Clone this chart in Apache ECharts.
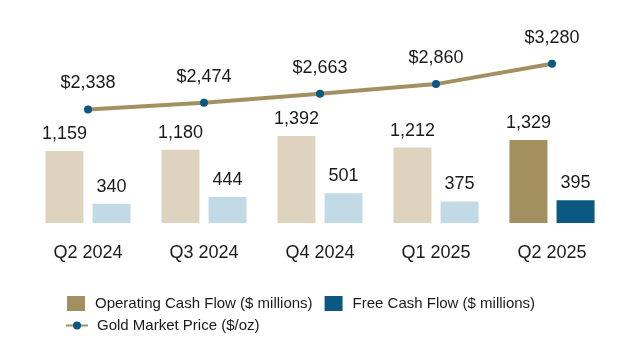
<!DOCTYPE html>
<html>
<head>
<meta charset="utf-8">
<script src="https://cdn.jsdelivr.net/npm/echarts@6/dist/echarts.min.js"></script>
<style>html,body{margin:0;padding:0;background:#fff}#c{width:640px;height:350px}</style>
</head>
<body>
<div id="c"></div>
<script>
const categories = ['Q2 2024', 'Q3 2024', 'Q4 2024', 'Q1 2025', 'Q2 2025'];
const operatingCashFlow = [1159, 1180, 1392, 1212, 1329];
const freeCashFlow = [340, 444, 501, 375, 395];
const goldPrice = [2338, 2474, 2663, 2860, 3280];

const FONT = '"Liberation Sans", Arial, sans-serif';
const TXT = '#1a1a1a';
const ocfDark = '#A39061', ocfLight = '#DDD3BF';
const fcfDark = '#0B5882', fcfLight = '#C2D9E6';
const lastIdx = categories.length - 1;
const fmt = v => Number(v).toLocaleString('en-US');

const chart = echarts.init(document.getElementById('c'), null, {renderer: 'canvas'});
chart.setOption({
  animation: false,
  backgroundColor: '#fff',
  textStyle: {fontFamily: FONT},
  grid: {left: 30, right: 30, top: 20, bottom: 127},
  xAxis: {
    type: 'category',
    data: categories,
    axisLine: {show: false},
    axisTick: {show: false},
    axisLabel: {fontSize: 18, color: TXT, fontFamily: FONT, margin: 21}
  },
  yAxis: [
    {type: 'value', min: 40, max: 3195, show: false, splitLine: {show: false}},
    {type: 'value', min: 0, max: 4180, show: false, splitLine: {show: false}}
  ],
  legend: [
    {
      data: ['Operating Cash Flow ($ millions)', 'Free Cash Flow ($ millions)'],
      left: 67, top: 296, padding: 0, icon: 'rect',
      itemWidth: 18, itemHeight: 15, itemGap: 12,
      textStyle: {fontSize: 15, color: TXT, fontFamily: FONT, padding: [0, 0, 0, 5]}
    },
    {
      data: ['Gold Market Price ($/oz)'],
      left: 65, top: 318, padding: 0,
      itemWidth: 22, itemHeight: 10,
      textStyle: {fontSize: 15, color: TXT, fontFamily: FONT, padding: [0, 0, 0, 4]}
    }
  ],
  series: [
    {
      name: 'Operating Cash Flow ($ millions)',
      type: 'bar',
      barWidth: 38,
      barGap: '24%',
      itemStyle: {color: ocfDark},
      data: operatingCashFlow.map((v, i) => ({value: v, itemStyle: {color: i === lastIdx ? ocfDark : ocfLight}})),
      label: {show: true, position: 'top', distance: 8, fontSize: 18, color: TXT, fontFamily: FONT, formatter: p => fmt(p.value)}
    },
    {
      name: 'Free Cash Flow ($ millions)',
      type: 'bar',
      barWidth: 38,
      itemStyle: {color: fcfDark},
      data: freeCashFlow.map((v, i) => ({value: v, itemStyle: {color: i === lastIdx ? fcfDark : fcfLight}})),
      label: {show: true, position: 'top', distance: 8, fontSize: 18, color: TXT, fontFamily: FONT, formatter: p => fmt(p.value)}
    },
    {
      name: 'Gold Market Price ($/oz)',
      type: 'line',
      yAxisIndex: 1,
      data: goldPrice,
      symbol: 'circle',
      symbolSize: 8,
      lineStyle: {color: ocfDark, width: 4},
      itemStyle: {color: fcfDark},
      label: {show: true, position: 'top', distance: 13, fontSize: 18, color: TXT, fontFamily: FONT, formatter: p => '$' + fmt(p.value)}
    }
  ]
});
</script>
</body>
</html>
